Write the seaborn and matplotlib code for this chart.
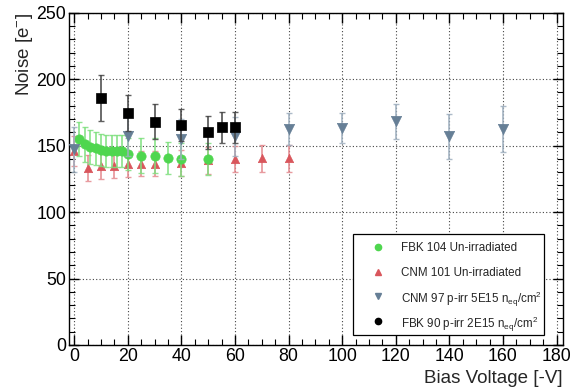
import numpy as np
import pandas as pd
import seaborn as sns
import matplotlib
matplotlib.use("Agg")
import matplotlib.pyplot as plt
from matplotlib.lines import Line2D
from matplotlib.patches import Rectangle
from matplotlib.ticker import MultipleLocator

# ---- data ----
fbk104_x = [2, 4, 6, 8, 10, 12, 14, 16, 18, 20, 25, 30, 35, 40, 50]
fbk104_y = [155, 151, 149, 148, 146.8, 146.2, 146, 146, 146, 144, 142.5, 142.5, 140.6, 139.8, 140.1]
fbk104_e = [13, 13, 13, 12.5, 12, 12, 12, 12, 12, 12, 13, 13, 12, 12.5, 12]

cnm101_x = [0, 5, 10, 15, 20, 25, 30, 40, 50, 60, 70, 80]
cnm101_y = [146, 133, 135, 135, 136, 136.5, 136.5, 137, 139, 140, 140.3, 140.3]
cnm101_e = [11, 10, 10, 9.5, 9.5, 9.5, 9.5, 9.5, 10, 10, 10, 10]

cnm97_x = [0, 20, 40, 60, 80, 100, 120, 140, 160]
cnm97_y = [147.3, 157.4, 154.9, 156.9, 162.4, 163.2, 168.2, 156.9, 162.4]
cnm97_e = [17, 15, 15, 14.7, 11.9, 11.5, 13, 17.2, 17.2]

fbk90_x = [10, 20, 30, 40, 50, 55, 60]
fbk90_y = [185.8, 174.5, 168, 165.7, 160.1, 163.7, 163.7]
fbk90_e = [17.3, 13.4, 13.2, 12.2, 12.5, 11.9, 11.9]

labels = ["FBK 104 Un-irradiated", "CNM 101 Un-irradiated",
          r"CNM 97 p-irr 5E15 n$_{\rm eq}$/cm$^{2}$",
          r"FBK 90 p-irr 2E15 n$_{\rm eq}$/cm$^{2}$"]
xticks = [0, 20, 40, 60, 80, 100, 120, 140, 160, 180]
yticks = [0, 50, 100, 150, 200, 250]

sns.set_theme(style="ticks")
plt.rcParams["font.family"] = ["Liberation Sans", "DejaVu Sans"]
plt.rcParams["mathtext.fontset"] = "custom"
plt.rcParams["mathtext.rm"] = "Liberation Sans"
plt.rcParams["mathtext.it"] = "Liberation Sans:italic"
plt.rcParams["mathtext.bf"] = "Liberation Sans:bold"

series = [
    (fbk104_x, fbk104_y, fbk104_e, "#4fd64f", "#7fe07f", "o", 45, 3),
    (cnm101_x, cnm101_y, cnm101_e, "#d9565c", "#e58a8f", "^", 36, 2),
    (cnm97_x, cnm97_y, cnm97_e, "#667f96", "#9fb0c0", "v", 55, 4),
    (fbk90_x, fbk90_y, fbk90_e, "#000000", "#444444", "s", 48, 5),
]
legend_markers = [("o", "#4fd64f", 4.5), ("^", "#d9565c", 4.5),
                  ("v", "#667f96", 5), ("o", "black", 4.5)]

frames = []
for (x, y, e, c, ec, m, s, z), lab in zip(series, labels):
    frames.append(pd.DataFrame({"V": x, "noise": y, "err": e, "sample": lab}))
df = pd.concat(frames, ignore_index=True)

fig = plt.figure(figsize=(5.77, 3.92), dpi=100)
ax = fig.add_axes([0.1196, 0.12, 0.9752 - 0.1196, 0.9676 - 0.12])

for (x, y, e, c, ec, m, s, z), lab in zip(series, labels):
    sub = df[df["sample"] == lab]
    ax.errorbar(sub["V"], sub["noise"], yerr=sub["err"], fmt="none",
                ecolor=ec, elinewidth=1.3, capsize=2.5, capthick=1.0,
                alpha=0.85, zorder=z)
    sns.scatterplot(data=sub, x="V", y="noise", ax=ax, color=c, marker=m,
                    s=s, edgecolor=c, linewidth=0.5, zorder=z + 0.5,
                    legend=False)

ax.set_xlim(-1.9, 182.3)
ax.set_ylim(0, 250)
ax.set_xticks(xticks)
ax.set_yticks(yticks)
ax.xaxis.set_minor_locator(MultipleLocator(5))
ax.yaxis.set_minor_locator(MultipleLocator(10))
ax.tick_params(which="both", direction="in", top=True, right=True,
               labeltop=False, labelright=False, colors="black")
ax.tick_params(which="major", length=7, width=1, labelsize=12.8, pad=2)
ax.tick_params(which="minor", length=4, width=0.8)
ax.grid(True, which="major", linestyle=(0, (1, 2)), color="#444444", linewidth=0.8)
for sp in ax.spines.values():
    sp.set_visible(True)
    sp.set_linewidth(1.0)
    sp.set_color("black")

ax.set_xlabel("Bias Voltage [-V]", fontsize=13.5, loc="right", labelpad=4)
ax.set_ylabel(r"Noise [e$^{-}$]", fontsize=13.5, loc="top", labelpad=1)

# ---- legend box (ROOT-style TLegend), in axes fraction ----
def fx(px):
    return (px - 69) / (562.7 - 69)

def fy(py):
    return (345 - py) / (345 - 12.7)

box = Rectangle((fx(353), fy(335)), fx(544) - fx(353), fy(234) - fy(335),
                transform=ax.transAxes, facecolor="white", edgecolor="black",
                linewidth=0.9, zorder=10)
ax.add_patch(box)
row_y = [247, 272, 296.5, 321.5]
for (m, c, ms), lab, ry in zip(legend_markers, labels, row_y):
    ax.add_line(Line2D([fx(377.7)], [fy(ry)], transform=ax.transAxes,
                       linestyle="none", marker=m, color=c, markersize=ms,
                       zorder=11))
    ax.text(fx(401.5), fy(ry), lab, transform=ax.transAxes, fontsize=8.4,
            ha="left", va="center_baseline", zorder=11)

fig.savefig("out.png", dpi=100)
